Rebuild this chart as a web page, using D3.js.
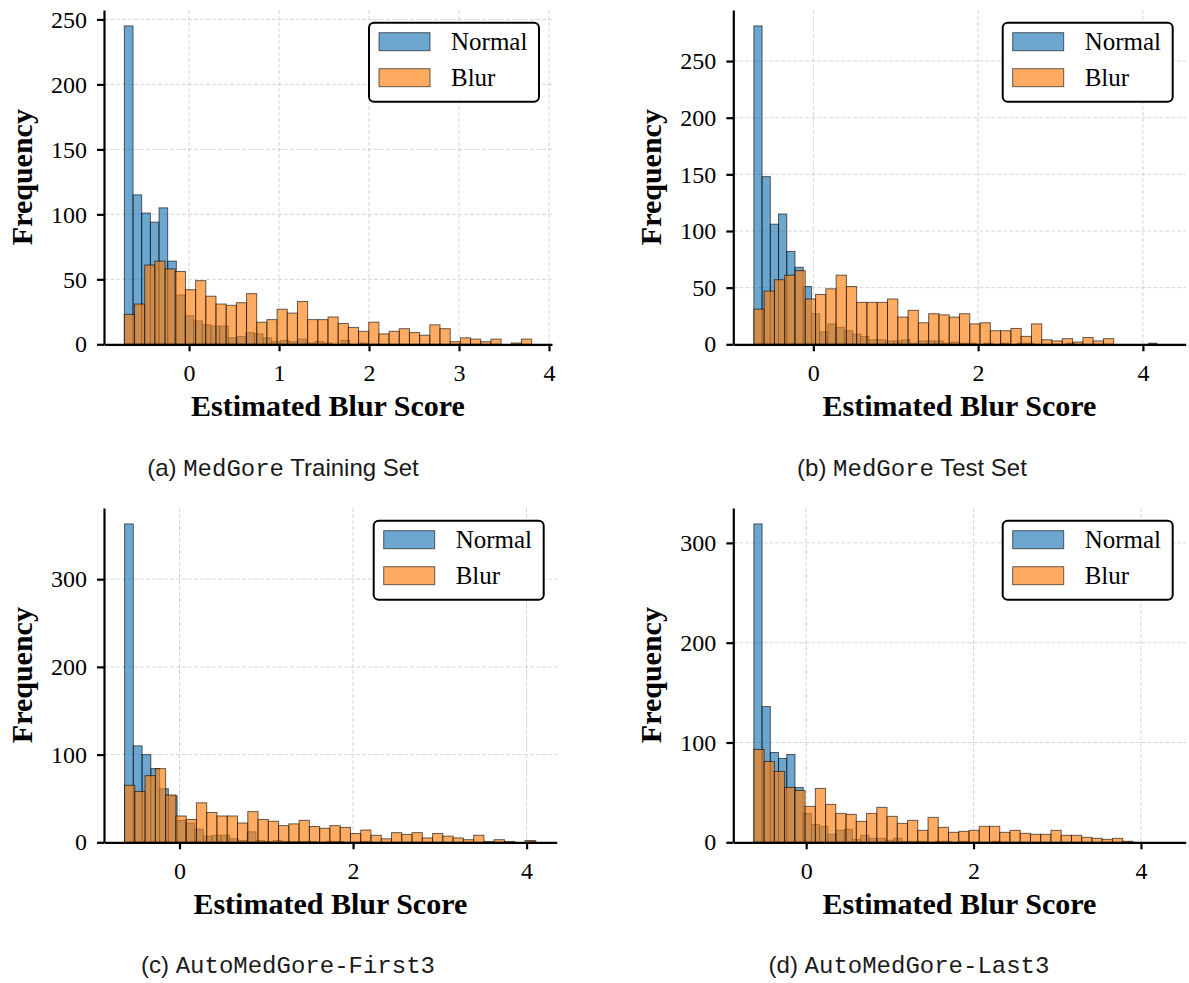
<!doctype html>
<html>
<head>
<meta charset="utf-8">
<title>Estimated Blur Score histograms</title>
<script src="https://cdn.jsdelivr.net/npm/d3@7"></script>
<style>
  body { margin: 0; background: #fff; }
  .axis text { font-family: "Liberation Serif", "Times New Roman", serif; font-size: 24px; fill: #000; }
  .axis path, .axis line { stroke: #000; stroke-width: 2.2; }
  .axis-label { font-family: "Liberation Serif", "Times New Roman", serif; font-size: 30px; font-weight: bold; fill: #000; }
  .legend-text { font-family: "Liberation Serif", "Times New Roman", serif; font-size: 25px; fill: #000; }
  .caption { font-family: "Liberation Sans", Arial, sans-serif; font-size: 24px; fill: #1a1a1a; }
  .caption .mono { font-family: "Liberation Mono", "Courier New", monospace; }
  .grid { stroke: #b0b0b0; stroke-opacity: 0.5; stroke-width: 1; stroke-dasharray: 4,2; }
</style>
</head>
<body>
<div id="chart"></div>
<script>
// histogram counts, bins are equal width over each range
var normalA = [245,115,101,94,105,64,38,22,18,15,14,14,5,6,9,8,5,2,3,2,4,1,2,1,0,3,0,1,0,0,0,0,0,0,0,0,0,0,0,0,0,0,0,0,0,0,0];
var normalRangeA = [-0.719, 3.807];
var blurA = [23,31,61,64,58,56,42,49,37,31,30,32,39,17,19,27,24,33,19,19,21,16,13,10,17,8,10,12,9,7,15,12,2,5,4,2,4,0,1,4];
var blurRangeA = [-0.719, 3.807];

var normalB = [281,148,106,115,82,68,51,27,11,18,15,12,9,7,4,4,3,3,4,1,3,3,3,1,2,1,1,0,1,0,1,0,1,1,0,0,0,0,1,0,0,0,0,0,0,0,0,0,1,0];
var normalRangeB = [-0.722, 4.27];
var blurB = [31,47,57,61,65,40,44,49,61,51,37,37,37,40,24,30,19,27,26,24,27,18,19,12,12,14,7,18,4,3,5,2,6,3,5,0,0,0,0,0];
var blurRangeB = [-0.722, 4.27];

var normalC = [363,110,100,84,61,53,25,22,15,7,8,8,4,2,12,2,1,2,1,1,1,1,0,1,1,0,0,1,0,0,0,0,0,0,0,0,0,0,0,0,0,0,0,0,0,0,1];
var normalRangeC = [-0.633, 4.11];
var blurC = [65,58,76,84,54,30,26,45,34,30,30,22,35,26,24,19,21,25,18,16,19,17,10,14,8,4,11,9,11,5,10,7,5,3,8,1,3,1,0,2];
var blurRangeC = [-0.633, 4.10];

var normalD = [319,136,90,84,88,55,29,18,16,8,12,13,3,7,4,4,2,4,1,1,1,0,1,1,0,1,0,0,0,1,0,0,0,0,0,0,0,0,0,0,0,0,0,0,0,0,0,0,0,0];
var normalRangeD = [-0.625, 4.289];
var blurD = [93,81,71,55,52,36,54,38,29,28,21,29,35,26,19,22,12,25,15,10,11,12,16,16,10,12,9,8,8,12,7,7,5,4,3,4,1,0,0,0];
var blurRangeD = [-0.625, 4.271];

var xTicksA = [0, 1, 2, 3, 4];
var xTicksBCD = [0, 2, 4];
var yTicksAB = [0, 50, 100, 150, 200, 250];
var yTicksCD = [0, 100, 200, 300];

var seriesNames = ["Normal", "Blur"];
var colors = { Normal: "#1f77b4", Blur: "#ff7f0e" };

var panels = [
    { normal: normalA, normalRange: normalRangeA, blur: blurA, blurRange: blurRangeA, xTicks: xTicksA, yTicks: yTicksAB,
      caption: ["(a) ", "MedGore", " Training Set"] },
    { normal: normalB, normalRange: normalRangeB, blur: blurB, blurRange: blurRangeB, xTicks: xTicksBCD, yTicks: yTicksAB,
      caption: ["(b) ", "MedGore", " Test Set"] },
    { normal: normalC, normalRange: normalRangeC, blur: blurC, blurRange: blurRangeC, xTicks: xTicksBCD, yTicks: yTicksCD,
      caption: ["(c) ", "AutoMedGore-First3", ""] },
    { normal: normalD, normalRange: normalRangeD, blur: blurD, blurRange: blurRangeD, xTicks: xTicksBCD, yTicks: yTicksCD,
      caption: ["(d) ", "AutoMedGore-Last3", ""] }
];

// plot boxes in page pixels
var boxes = [
    { left: 104, right: 552, top: 10, bottom: 344.3, capX: 283, capY: 476 },
    { left: 733.3, right: 1185.7, top: 10, bottom: 344.3, capX: 912, capY: 476 },
    { left: 104, right: 556.7, top: 508, bottom: 842.3, capX: 288, capY: 973 },
    { left: 733.3, right: 1185.7, top: 508, bottom: 842.3, capX: 909, capY: 973 }
];

var svg = d3.select("#chart").append("svg")
    .attr("width", 1189)
    .attr("height", 983);

function drawHist(g, counts, range, color, x, y) {
    var w = (range[1] - range[0]) / counts.length;
    var bins = counts.map(function(c, i) {
        return { x0: range[0] + i * w, x1: range[0] + (i + 1) * w, n: c };
    }).filter(function(d) { return d.n > 0; });

    g.append("g").selectAll("rect").data(bins).enter()
        .append("rect")
        .attr("x", function(d) { return x(d.x0); })
        .attr("width", function(d) { return x(d.x1) - x(d.x0); })
        .attr("y", function(d) { return y(d.n); })
        .attr("height", function(d) { return y(0) - y(d.n); })
        .attr("fill", color)
        .attr("fill-opacity", 0.65)
        .attr("stroke", "#000")
        .attr("stroke-opacity", 0.6)
        .attr("stroke-width", 1);
}

panels.forEach(function(p, k) {
    var box = boxes[k];
    var lo = Math.min(p.normalRange[0], p.blurRange[0]);
    var hi = Math.max(p.normalRange[1], p.blurRange[1]);
    var pad = (hi - lo) * 0.05;

    var x = d3.scaleLinear().domain([lo - pad, hi + pad]).range([box.left, box.right]);
    var y = d3.scaleLinear().domain([0, d3.max(p.normal.concat(p.blur)) * 1.05]).range([box.bottom, box.top]);

    var g = svg.append("g");

    // Grid
    g.append("g").selectAll("line").data(p.xTicks).enter().append("line")
        .attr("class", "grid")
        .attr("x1", function(d) { return x(d); }).attr("x2", function(d) { return x(d); })
        .attr("y1", box.top).attr("y2", box.bottom);
    g.append("g").selectAll("line").data(p.yTicks.slice(1)).enter().append("line")
        .attr("class", "grid")
        .attr("x1", box.left).attr("x2", box.right)
        .attr("y1", function(d) { return y(d); }).attr("y2", function(d) { return y(d); });

    drawHist(g, p.normal, p.normalRange, colors.Normal, x, y);
    drawHist(g, p.blur, p.blurRange, colors.Blur, x, y);

    // X Axis
    var xAxisCall = d3.axisBottom(x).tickValues(p.xTicks).tickSize(7).tickSizeOuter(0).tickPadding(13)
        .tickFormat(d3.format("d"));
    g.append("g").attr("class", "axis")
        .attr("transform", "translate(0," + box.bottom + ")")
        .call(xAxisCall);

    // Y Axis
    var yAxisCall = d3.axisLeft(y).tickValues(p.yTicks).tickSize(7).tickSizeOuter(0).tickPadding(10)
        .tickFormat(d3.format("d"));
    g.append("g").attr("class", "axis")
        .attr("transform", "translate(" + box.left + ",0)")
        .call(yAxisCall);

    // Labels
    g.append("text").attr("class", "axis-label")
        .attr("x", (box.left + box.right) / 2).attr("y", box.bottom + 72)
        .attr("text-anchor", "middle")
        .text("Estimated Blur Score");
    g.append("text").attr("class", "axis-label")
        .attr("transform", "translate(" + (box.left - 72) + "," + ((box.top + box.bottom) / 2) + ") rotate(-90)")
        .attr("text-anchor", "middle")
        .text("Frequency");

    // Legend
    var legend = g.append("g")
        .attr("transform", "translate(" + (box.right - 13 - 170) + "," + (box.top + 12.7) + ")");
    legend.append("rect")
        .attr("width", 170).attr("height", 79).attr("rx", 5)
        .attr("fill", "#fff").attr("stroke", "#000").attr("stroke-width", 2);
    seriesNames.forEach(function(name, i) {
        var row = legend.append("g").attr("transform", "translate(10," + (10 + i * 36) + ")");
        row.append("rect")
            .attr("width", 51).attr("height", 18)
            .attr("fill", colors[name]).attr("fill-opacity", 0.65)
            .attr("stroke", "#000").attr("stroke-opacity", 0.6).attr("stroke-width", 1);
        row.append("text").attr("class", "legend-text")
            .attr("x", 72).attr("y", 9).attr("dy", "0.35em")
            .text(name);
    });

    // Caption
    var cap = svg.append("text").attr("class", "caption")
        .attr("x", box.capX).attr("y", box.capY).attr("text-anchor", "middle");
    cap.append("tspan").text(p.caption[0]);
    cap.append("tspan").attr("class", "mono").text(p.caption[1]);
    if (p.caption[2]) cap.append("tspan").text(p.caption[2]);
});
</script>
</body>
</html>
